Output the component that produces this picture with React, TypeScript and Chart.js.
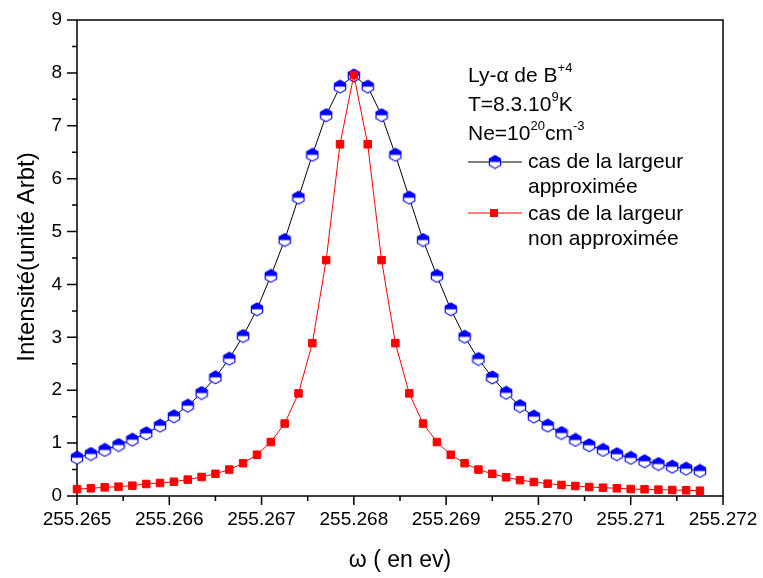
import React, { useEffect, useRef } from 'react';
import { Chart, registerables } from 'chart.js';

Chart.register(...registerables);

const X_VALUES = [
  255.265, 255.26515, 255.2653, 255.26545, 255.2656, 255.26575, 255.2659, 255.26605,
  255.2662, 255.26635, 255.2665, 255.26665, 255.2668, 255.26695, 255.2671, 255.26725,
  255.2674, 255.26755, 255.2677, 255.26785, 255.268, 255.26815, 255.2683, 255.26845,
  255.2686, 255.26875, 255.2689, 255.26905, 255.2692, 255.26935, 255.2695, 255.26965,
  255.2698, 255.26995, 255.2701, 255.27025, 255.2704, 255.27055, 255.2707, 255.27085,
  255.271, 255.27115, 255.2713, 255.27145, 255.2716, 255.27175,
];

const APPROX_VALUES = [
  0.724, 0.794, 0.87, 0.964, 1.064, 1.185, 1.329, 1.507, 1.707, 1.947,
  2.244, 2.596, 3.025, 3.53, 4.16, 4.84, 5.64, 6.45, 7.2, 7.74,
  7.95, 7.74, 7.2, 6.45, 5.64, 4.84, 4.16, 3.53, 3.01, 2.59,
  2.24, 1.95, 1.7, 1.5, 1.33, 1.19, 1.06, 0.96, 0.87, 0.79,
  0.72, 0.656, 0.605, 0.554, 0.516, 0.473,
];

const NON_APPROX_VALUES = [
  0.13, 0.146, 0.164, 0.176, 0.195, 0.227, 0.246, 0.27, 0.31, 0.36,
  0.42, 0.5, 0.62, 0.78, 1.02, 1.37, 1.94, 2.89, 4.46, 6.65,
  7.96, 6.65, 4.46, 2.89, 1.94, 1.37, 1.02, 0.78, 0.62, 0.5,
  0.42, 0.354, 0.3, 0.265, 0.233, 0.208, 0.189, 0.17, 0.157, 0.146,
  0.132, 0.127, 0.12, 0.113, 0.108, 0.1,
];

const X_TICKS = [255.265, 255.266, 255.267, 255.268, 255.269, 255.27, 255.271, 255.272];
const X_MINOR = [255.2655, 255.2665, 255.2675, 255.2685, 255.2695, 255.2705, 255.2715];
const Y_TICKS = [0, 1, 2, 3, 4, 5, 6, 7, 8, 9];
const Y_MINOR = [0.5, 1.5, 2.5, 3.5, 4.5, 5.5, 6.5, 7.5, 8.5];

const X_TITLE = 'ω ( en ev)';
const Y_TITLE = 'Intensité(unité Arbt)';
const LEGEND_APPROX = ['cas de la largeur', 'approximée'];
const LEGEND_NON_APPROX = ['cas de la largeur', 'non approximée'];

const FONT = '"Liberation Sans", Arial, Helvetica, sans-serif';
const BLUE = '#0000ff';
const RED = '#ff0000';

function makeHex(): HTMLCanvasElement {
  const c = document.createElement('canvas');
  c.width = 14;
  c.height = 15;
  const g = c.getContext('2d')!;
  const cx = 7, cy = 7.5, hw = 5.6, hh = 6.4;
  const hexPath = () => {
    g.beginPath();
    g.moveTo(cx, cy - hh);
    g.lineTo(cx + hw, cy - hh / 2);
    g.lineTo(cx + hw, cy + hh / 2);
    g.lineTo(cx, cy + hh);
    g.lineTo(cx - hw, cy + hh / 2);
    g.lineTo(cx - hw, cy - hh / 2);
    g.closePath();
  };
  hexPath();
  g.fillStyle = '#ffffff';
  g.fill();
  g.beginPath();
  g.moveTo(cx - hw, cy);
  g.lineTo(cx - hw, cy - hh / 2);
  g.lineTo(cx, cy - hh);
  g.lineTo(cx + hw, cy - hh / 2);
  g.lineTo(cx + hw, cy);
  g.closePath();
  g.fillStyle = BLUE;
  g.fill();
  hexPath();
  g.strokeStyle = BLUE;
  g.lineWidth = 1.2;
  g.stroke();
  return c;
}

type Part = { t: string; sup?: boolean };

function drawRich(ctx: CanvasRenderingContext2D, x: number, y: number, parts: Part[], size: number) {
  let cx = x;
  ctx.textBaseline = 'alphabetic';
  ctx.textAlign = 'left';
  for (const p of parts) {
    const fs = p.sup ? Math.round(size * 0.62) : size;
    ctx.font = `${fs}px ${FONT}`;
    ctx.fillText(p.t, cx, p.sup ? y - size * 0.47 : y);
    cx += ctx.measureText(p.t).width;
  }
}

export default function App() {
  const ref = useRef<HTMLCanvasElement>(null);

  useEffect(() => {
    const canvas = ref.current!;
    const hex = makeHex();

    const decor = {
      id: 'decor',
      beforeDatasetsDraw(chart: any) {
        const ctx: CanvasRenderingContext2D = chart.ctx;
        const { left, right, top, bottom } = chart.chartArea;
        const xs = chart.scales.x;
        const ys = chart.scales.y;
        ctx.save();
        ctx.strokeStyle = '#000';
        ctx.lineWidth = 1.5;
        ctx.strokeRect(left, top, right - left, bottom - top);
        ctx.beginPath();
        for (const v of Y_TICKS) {
          const p = ys.getPixelForValue(v);
          ctx.moveTo(left - 10, p);
          ctx.lineTo(left, p);
        }
        for (const v of Y_MINOR) {
          const p = ys.getPixelForValue(v);
          ctx.moveTo(left - 5, p);
          ctx.lineTo(left, p);
        }
        for (const v of X_TICKS) {
          const p = xs.getPixelForValue(v);
          ctx.moveTo(p, bottom);
          ctx.lineTo(p, bottom + 9);
        }
        for (const v of X_MINOR) {
          const p = xs.getPixelForValue(v);
          ctx.moveTo(p, bottom);
          ctx.lineTo(p, bottom + 5);
        }
        ctx.stroke();
        ctx.restore();
      },
      afterDraw(chart: any) {
        const ctx: CanvasRenderingContext2D = chart.ctx;
        ctx.save();
        ctx.fillStyle = '#000';
        // axis titles
        ctx.font = `23px ${FONT}`;
        ctx.textAlign = 'center';
        ctx.textBaseline = 'alphabetic';
        ctx.fillText(X_TITLE, 400, 567);
        ctx.save();
        ctx.translate(34, 257);
        ctx.rotate(-Math.PI / 2);
        ctx.font = `24px ${FONT}`;
        ctx.fillText(Y_TITLE, 0, 0);
        ctx.restore();

        // annotation
        const fs = 21;
        drawRich(ctx, 468, 82, [{ t: 'Ly-α de B' }, { t: '+4', sup: true }], fs);
        drawRich(ctx, 468, 111, [{ t: 'T=8.3.10' }, { t: '9', sup: true }, { t: 'K' }], fs);
        drawRich(ctx, 468, 140, [{ t: 'Ne=10' }, { t: '20', sup: true }, { t: 'cm' }, { t: '-3', sup: true }], fs);

        // legend item 1
        ctx.strokeStyle = '#000';
        ctx.lineWidth = 1;
        ctx.beginPath();
        ctx.moveTo(468, 162);
        ctx.lineTo(522, 162);
        ctx.stroke();
        ctx.drawImage(hex, 495 - hex.width / 2, 162 - hex.height / 2);
        ctx.font = `${fs}px ${FONT}`;
        ctx.textAlign = 'left';
        ctx.fillText(LEGEND_APPROX[0], 528, 168);
        ctx.fillText(LEGEND_APPROX[1], 528, 193);

        // legend item 2
        ctx.strokeStyle = RED;
        ctx.beginPath();
        ctx.moveTo(468, 213);
        ctx.lineTo(522, 213);
        ctx.stroke();
        ctx.fillStyle = RED;
        ctx.fillRect(490, 209, 8, 8);
        ctx.fillStyle = '#000';
        ctx.fillText(LEGEND_NON_APPROX[0], 528, 220);
        ctx.fillText(LEGEND_NON_APPROX[1], 528, 245);
        ctx.restore();
      },
    };

    const chart = new Chart(canvas, {
      type: 'line',
      data: {
        datasets: [
          {
            label: 'non approximée',
            data: X_VALUES.map((x, i) => ({ x, y: NON_APPROX_VALUES[i] })),
            borderColor: RED,
            backgroundColor: RED,
            borderWidth: 1,
            pointStyle: 'rect',
            pointRadius: 5.3,
            pointBorderWidth: 1,
            pointBorderColor: RED,
            pointBackgroundColor: RED,
            tension: 0,
            clip: false,
            order: 0,
          },
          {
            label: 'approximée',
            data: X_VALUES.map((x, i) => ({ x, y: APPROX_VALUES[i] })),
            borderColor: '#000',
            backgroundColor: BLUE,
            borderWidth: 1,
            pointStyle: hex as any,
            pointRadius: 6,
            tension: 0,
            clip: false,
            order: 1,
          },
        ],
      } as any,
      options: {
        animation: false,
        responsive: false,
        devicePixelRatio: 1,
        events: [],
        layout: { padding: { top: 20, right: 40, left: 0, bottom: 0 } },
        plugins: {
          legend: { display: false },
          tooltip: { enabled: false },
          title: { display: false },
        },
        scales: {
          x: {
            type: 'linear',
            min: 255.265,
            max: 255.272,
            grid: { display: false, drawTicks: false },
            border: { display: false },
            afterBuildTicks: (s: any) => {
              s.ticks = X_TICKS.map((v) => ({ value: v }));
            },
            afterFit: (s: any) => {
              s.height = 82;
              s.paddingLeft = 0;
              s.paddingRight = 0;
            },
            ticks: {
              color: '#000',
              font: { size: 19, family: FONT },
              padding: 12,
              maxRotation: 0,
              autoSkip: false,
              callback: (v: any) => Number(v).toFixed(3),
            },
          },
          y: {
            type: 'linear',
            min: 0,
            max: 9,
            grid: { display: false, drawTicks: false },
            border: { display: false },
            afterBuildTicks: (s: any) => {
              s.ticks = Y_TICKS.map((v) => ({ value: v }));
            },
            afterFit: (s: any) => {
              s.width = 77;
              s.paddingTop = 0;
              s.paddingBottom = 0;
            },
            ticks: {
              color: '#000',
              font: { size: 19, family: FONT },
              padding: 15,
              autoSkip: false,
              callback: (v: any) => String(v),
            },
          },
        },
      } as any,
      plugins: [decor],
    });

    return () => chart.destroy();
  }, []);

  return (
    <div style={{ position: 'fixed', left: 0, top: 0, width: 763, height: 578, background: '#fff' }}>
      <canvas ref={ref} width={763} height={578} style={{ display: 'block', width: 763, height: 578 }} />
    </div>
  );
}
